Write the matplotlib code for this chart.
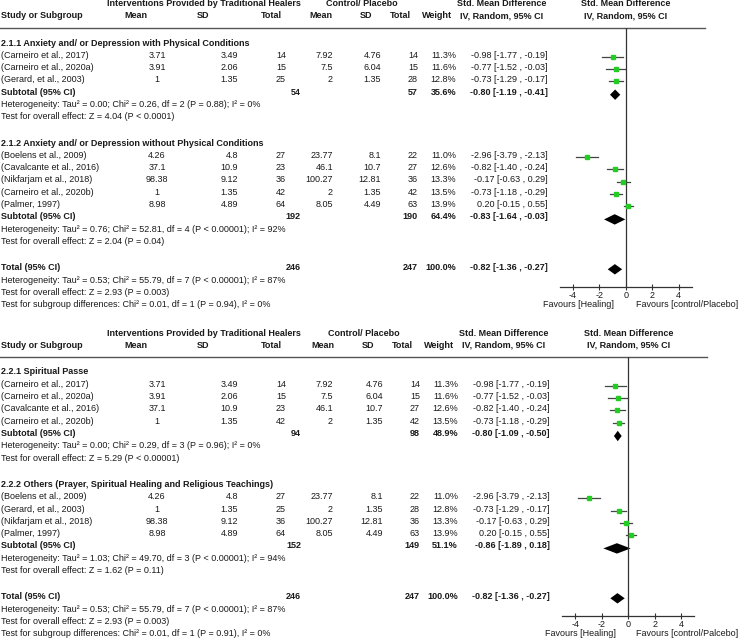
import matplotlib
matplotlib.use('Agg')
import matplotlib.pyplot as plt

plt.rcParams['font.family'] = ['Liberation Sans', 'DejaVu Sans']

W, H = 740, 638
FS = 6.45
INK = '#1a1a1a'
GREEN = '#22cc22'

# ---- study level data (same eight studies appear in both panels) ----
studies = ["(Carneiro et al., 2017)", "(Carneiro et al., 2020a)", "(Gerard, et al., 2003)",
           "(Boelens et al., 2009)", "(Cavalcante et al., 2016)", "(Nikfarjam et al., 2018)",
           "(Carneiro et al., 2020b)", "(Palmer, 1997)"]
exp_mean = ["3.71", "3.91", "1", "4.26", "37.1", "98.38", "1", "8.98"]
exp_sd = ["3.49", "2.06", "1.35", "4.8", "10.9", "9.12", "1.35", "4.89"]
exp_n = [14, 15, 25, 27, 23, 36, 42, 64]
ctl_mean = ["7.92", "7.5", "2", "23.77", "46.1", "100.27", "2", "8.05"]
ctl_sd = ["4.76", "6.04", "1.35", "8.1", "10.7", "12.81", "1.35", "4.49"]
ctl_n = [14, 15, 28, 22, 27, 36, 42, 63]
weight = [11.3, 11.6, 12.8, 11.0, 12.6, 13.3, 13.5, 13.9]
smd = [-0.98, -0.77, -0.73, -2.96, -0.82, -0.17, -0.73, 0.20]
ci_lo = [-1.77, -1.52, -1.29, -3.79, -1.40, -0.63, -1.18, -0.15]
ci_hi = [-0.19, -0.03, -0.17, -2.13, -0.24, 0.29, -0.29, 0.55]

# ---- panel 1 subgroups ----
p1_names = ["2.1.1 Anxiety and/ or Depression with Physical Conditions",
            "2.1.2 Anxiety and/ or Depression without Physical Conditions"]
p1_members = [[0, 1, 2], [3, 4, 5, 6, 7]]
p1_sub_exp_n = [54, 192]
p1_sub_ctl_n = [57, 190]
p1_sub_weight = [35.6, 64.4]
p1_sub_smd = [-0.80, -0.83]
p1_sub_lo = [-1.19, -1.64]
p1_sub_hi = [-0.41, -0.03]
p1_het = ["Heterogeneity: Tau\u00b2 = 0.00; Chi\u00b2 = 0.26, df = 2 (P = 0.88); I\u00b2 = 0%",
          "Heterogeneity: Tau\u00b2 = 0.76; Chi\u00b2 = 52.81, df = 4 (P < 0.00001); I\u00b2 = 92%"]
p1_z = ["Test for overall effect: Z = 4.04 (P < 0.0001)",
        "Test for overall effect: Z = 2.04 (P = 0.04)"]
p1_diff = "Test for subgroup differences: Chi\u00b2 = 0.01, df = 1 (P = 0.94), I\u00b2 = 0%"

# ---- panel 2 subgroups ----
p2_names = ["2.2.1 Spiritual Passe",
            "2.2.2 Others (Prayer, Spiritual Healing and Religious Teachings)"]
p2_members = [[0, 1, 4, 6], [3, 2, 5, 7]]
p2_sub_exp_n = [94, 152]
p2_sub_ctl_n = [98, 149]
p2_sub_weight = [48.9, 51.1]
p2_sub_smd = [-0.80, -0.86]
p2_sub_lo = [-1.09, -1.89]
p2_sub_hi = [-0.50, 0.18]
p2_het = ["Heterogeneity: Tau\u00b2 = 0.00; Chi\u00b2 = 0.29, df = 3 (P = 0.96); I\u00b2 = 0%",
          "Heterogeneity: Tau\u00b2 = 1.03; Chi\u00b2 = 49.70, df = 3 (P < 0.00001); I\u00b2 = 94%"]
p2_z = ["Test for overall effect: Z = 5.29 (P < 0.00001)",
        "Test for overall effect: Z = 1.62 (P = 0.11)"]
p2_diff = "Test for subgroup differences: Chi\u00b2 = 0.01, df = 1 (P = 0.91), I\u00b2 = 0%"

# ---- overall ----
tot_exp_n = 246
tot_ctl_n = 247
tot_weight = 100.0
tot_smd, tot_lo, tot_hi = -0.82, -1.36, -0.27
tot_het = "Heterogeneity: Tau\u00b2 = 0.53; Chi\u00b2 = 55.79, df = 7 (P < 0.00001); I\u00b2 = 87%"
tot_z = "Test for overall effect: Z = 2.93 (P = 0.003)"

ticks = [-4, -2, 0, 2, 4]


def ci_text(e, lo, hi):
    return f"{e:.2f} [{lo:.2f} , {hi:.2f}]"


fig = plt.figure(figsize=(W / 100, H / 100), dpi=100)
ax = fig.add_axes([0, 0, 1, 1])
ax.set_xlim(0, W)
ax.set_ylim(H, 0)
ax.axis('off')


def txt(x, y, s, ha='left', bold=False):
    ax.text(x, y, s, ha=ha, va='center', fontsize=FS, color=INK,
            fontweight='bold' if bold else 'normal')


def draw_panel(top, dx, zero_x, names, members, sub_en, sub_cn, sub_w,
               sub_e, sub_lo, sub_hi, het, z, diff, right_label):
    step = 12.3
    # headers
    txt(204, top, "Interventions Provided by Traditional Healers", 'center', True)
    txt(362 + dx, top, "Control/ Placebo", 'center', True)
    txt(502 + dx, top, "Std. Mean Difference", 'center', True)
    txt(zero_x, top, "Std. Mean Difference", 'center', True)
    y2 = top + 12
    txt(1, y2, "Study or Subgroup", bold=True)
    txt(136, y2, "Mean", 'center', True)
    txt(203, y2, "SD", 'center', True)
    txt(271, y2, "Total", 'center', True)
    txt(321 + dx, y2, "Mean", 'center', True)
    txt(366 + dx, y2, "SD", 'center', True)
    txt(400 + dx, y2, "Total", 'center', True)
    txt(437 + dx, y2, "Weight", 'center', True)
    txt(502 + dx, y2, "IV, Random, 95% CI", 'center', True)
    txt(zero_x, y2, "IV, Random, 95% CI", 'center', True)
    line_y = top + 24
    ax.plot([0, 705 + dx], [line_y, line_y], color='#555555', lw=1.0)

    rows = []   # (y, kind, index)
    y = top + 39
    for g in range(len(names)):
        txt(1, y, names[g], bold=True)
        for i in members[g]:
            y += step
            txt(1, y, studies[i])
            txt(157, y, exp_mean[i], 'center')
            txt(238, y, exp_sd[i], 'right')
            txt(286, y, str(exp_n[i]), 'right')
            txt(333, y, ctl_mean[i], 'right')
            txt(381 + dx, y, ctl_sd[i], 'right')
            txt(418 + dx, y, str(ctl_n[i]), 'right')
            txt(456 + dx, y, f"{weight[i]:.1f}%", 'right')
            txt(548 + dx, y, ci_text(smd[i], ci_lo[i], ci_hi[i]), 'right')
            rows.append((y, 'study', i))
        y += step
        txt(1, y, "Subtotal (95% CI)", bold=True)
        txt(301, y, str(sub_en[g]), 'right', True)
        txt(418 + dx, y, str(sub_cn[g]), 'right', True)
        txt(456 + dx, y, f"{sub_w[g]:.1f}%", 'right', True)
        txt(548 + dx, y, ci_text(sub_e[g], sub_lo[g], sub_hi[g]), 'right', True)
        rows.append((y, 'sub', g))
        y += step
        txt(1, y, het[g])
        y += step
        txt(1, y, z[g])
        y += 26.3
    txt(1, y, "Total (95% CI)", bold=True)
    txt(301, y, str(tot_exp_n), 'right', True)
    txt(418 + dx, y, str(tot_ctl_n), 'right', True)
    txt(456 + dx, y, f"{tot_weight:.1f}%", 'right', True)
    txt(548 + dx, y, ci_text(tot_smd, tot_lo, tot_hi), 'right', True)
    total_y = y
    txt(1, y + step, tot_het)
    txt(1, y + 2 * step, tot_z)
    txt(1, y + 3 * step, diff)

    # forest axes: x in SMD units, y in pixel rows
    axis_y = total_y + 19.5
    scale = 13.2
    left = zero_x - 5 * scale
    fa = fig.add_axes([left / W, 1 - axis_y / H, 10 * scale / W, (axis_y - line_y) / H])
    fa.set_xlim(-5, 5)
    fa.set_ylim(axis_y, line_y)
    fa.patch.set_visible(False)
    for s in ('top', 'left', 'right'):
        fa.spines[s].set_visible(False)
    fa.spines['bottom'].set_color('#333333')
    fa.spines['bottom'].set_linewidth(0.9)
    fa.set_yticks([])
    fa.set_xticks(ticks)
    fa.set_xticklabels([str(t) for t in ticks])
    fa.tick_params(axis='x', direction='inout', length=5, width=0.8, pad=0,
                   labelsize=FS, colors='#333333', labelcolor=INK)
    fa.axvline(0, color='#333333', lw=0.9)

    h = 5.2
    for (ry, kind, k) in rows:
        if kind == 'study':
            fa.plot([ci_lo[k], ci_hi[k]], [ry + 1.5, ry + 1.5], color='#444444', lw=0.9)
            fa.plot(smd[k], ry + 1.5, 's', ms=2.6, color=GREEN, mec=GREEN)
        else:
            c = ry + 2.5
            fa.fill([sub_lo[k], sub_e[k], sub_hi[k], sub_e[k]], [c, c - h, c, c + h],
                    color='black', lw=0)
    c = total_y + 1.5
    fa.fill([tot_lo, tot_smd, tot_hi, tot_smd], [c, c - h, c, c + h], color='black', lw=0)

    txt(zero_x - 12, axis_y + 17, "Favours [Healing]", 'right')
    txt(738.5, axis_y + 17, right_label, 'right')


draw_panel(4, 0, 625.7, p1_names, p1_members, p1_sub_exp_n, p1_sub_ctl_n, p1_sub_weight,
           p1_sub_smd, p1_sub_lo, p1_sub_hi, p1_het, p1_z, p1_diff,
           "Favours [control/Placebo]")
draw_panel(333, 2, 628.3, p2_names, p2_members, p2_sub_exp_n, p2_sub_ctl_n, p2_sub_weight,
           p2_sub_smd, p2_sub_lo, p2_sub_hi, p2_het, p2_z, p2_diff,
           "Favours [control/Palcebo]")

fig.savefig('out.png', dpi=100)
